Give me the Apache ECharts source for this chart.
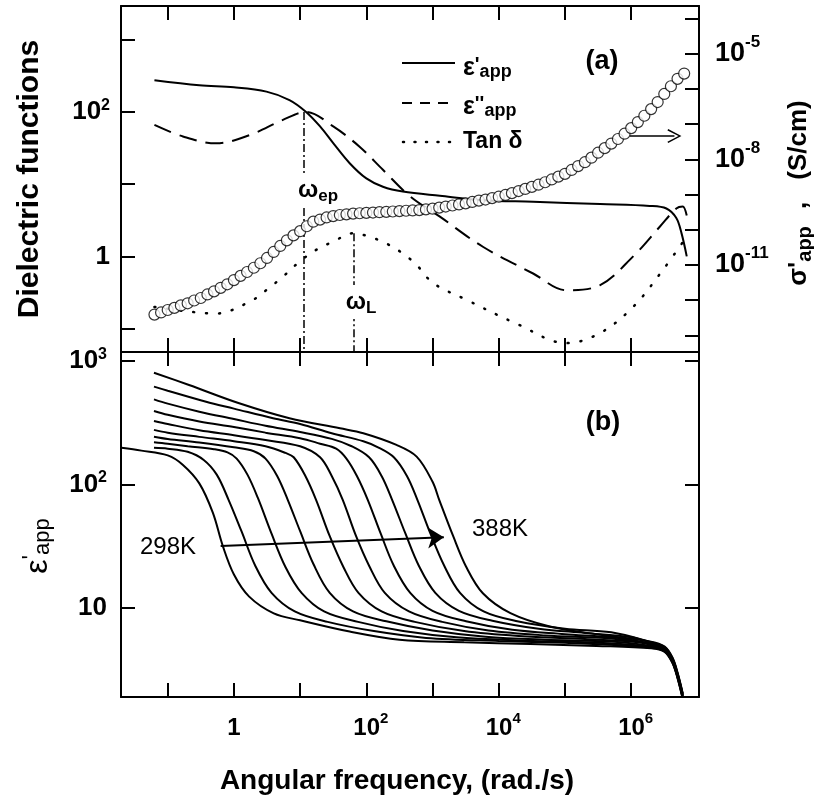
<!DOCTYPE html>
<html><head><meta charset="utf-8">
<script src="https://cdn.jsdelivr.net/npm/echarts@6/dist/echarts.min.js"></script>
<style>html,body{margin:0;padding:0;background:#fff}#c{width:814px;height:805px}</style>
</head><body><div id="c"></div>
<script>
// ---------- axis ranges & ticks ----------
const xRange = [0.0197, 1.057e7];
const yTopRange = [0.0475, 2924];
const ySigmaRange = [3.36e-14, 2.29e-4];
const yBotRange = [1.886, 1186];
const xTicks = [0.1, 1, 10, 100, 1e3, 1e4, 1e5, 1e6];
const xLabels = [1, 1e2, 1e4, 1e6];
const yTopTicks = [0.1, 1, 10, 100, 1000];
const yTopLabels = [1, 100];
const ySigmaTicks = [1e-13, 1e-12, 1e-11, 1e-10, 1e-9, 1e-8, 1e-7, 1e-6, 1e-5, 1e-4];
const ySigmaLabels = [1e-11, 1e-8, 1e-5];
const yBotTicks = [10, 100, 1000];

// ---------- panel (a) ----------
const epsPrime = [[0.063,275],[0.30,234],[1,219],[3.1,191],[6.9,146],[12.3,100],[20,63],[31.6,37],[56,19.5],[100,12],[178,9.2],[355,7.9],[1290,6.9],[5750,6.0],[3.3e4,5.7],[3.4e5,5.3],[1.9e6,5.0],[3.4e6,4.6],[4.8e6,3.4],[5.75e6,2.1],[6.9e6,1.0]];
const epsDouble = [[0.063,66],[0.17,45.7],[0.54,36.7],[1.74,47.9],[5.5,77.6],[12.3,100],[31.6,63],[79,33],[178,15.8],[457,6.8],[1290,3.55],[5750,1.36],[3.3e4,0.58],[1.05e5,0.34],[3.4e5,0.40],[1.07e6,1.0],[2.7e6,2.57],[4.8e6,4.6],[6.0e6,4.9],[7.2e6,3.0]];
const tanDelta = [[0.063,0.20],[0.19,0.174],[0.54,0.162],[1.74,0.236],[3.1,0.343],[5.5,0.525],[9.8,0.845],[17.4,1.23],[31.6,1.60],[63,2.09],[112,1.87],[200,1.51],[355,1.10],[575,0.76],[1020,0.427],[3240,0.251],[1.86e4,0.117],[1.05e5,0.063],[3.4e5,0.087],[1.07e6,0.20],[3.0e6,0.646],[6.6e6,1.78]];
const sigmaFreq = [0.0631,0.0794,0.1,0.126,0.158,0.2,0.251,0.316,0.398,0.501,0.631,0.794,
 1,1.26,1.58,2,2.51,3.16,3.98,5.01,6.31,7.94,
 10,12.6,15.8,20,25.1,31.6,39.8,50.1,63.1,79.4,
 100,126,158,200,251,316,398,501,631,794,
 1e3,1.26e3,1.58e3,2e3,2.51e3,3.16e3,3.98e3,5.01e3,6.31e3,7.94e3,
 1e4,1.26e4,1.58e4,2e4,2.51e4,3.16e4,3.98e4,5.01e4,6.31e4,7.94e4,
 1e5,1.26e5,1.58e5,2e5,2.51e5,3.16e5,3.98e5,5.01e5,6.31e5,7.94e5,
 1e6,1.26e6,1.58e6,2e6,2.51e6,3.16e6,3.98e6,5.01e6,6.31e6];
const sigmaVal = [3.89e-13,4.47e-13,5.25e-13,6.03e-13,7.08e-13,8.13e-13,9.77e-13,1.15e-12,1.45e-12,1.78e-12,2.24e-12,2.82e-12,
 3.72e-12,4.90e-12,6.31e-12,8.32e-12,1.12e-11,1.58e-11,2.34e-11,3.47e-11,5.01e-11,6.92e-11,
 9.12e-11,1.26e-10,1.70e-10,1.95e-10,2.24e-10,2.45e-10,2.63e-10,2.75e-10,2.88e-10,2.95e-10,
 3.02e-10,3.09e-10,3.16e-10,3.24e-10,3.31e-10,3.39e-10,3.47e-10,3.55e-10,3.63e-10,3.80e-10,
 3.98e-10,4.27e-10,4.57e-10,4.90e-10,5.25e-10,5.62e-10,6.17e-10,6.76e-10,7.24e-10,7.94e-10,
 8.71e-10,9.77e-10,1.10e-9,1.26e-9,1.45e-9,1.66e-9,1.91e-9,2.24e-9,2.69e-9,3.24e-9,
 3.89e-9,5.01e-9,6.46e-9,8.32e-9,1.12e-8,1.55e-8,2.09e-8,2.82e-8,3.80e-8,5.37e-8,
 7.76e-8,1.15e-7,1.74e-7,2.69e-7,4.27e-7,7.24e-7,1.20e-6,1.95e-6,2.75e-6];
const omegaFreq = [11.4, 64.5];      // ω_ep, ω_L
const omegaTop = [100, 2.09];
const sigmaArrow = [[9.5e5, 4.6e-8], [4.5e6, 4.6e-8]];

// ---------- panel (b) ----------
const eps298 = [[0.02,198],[0.04,188],[0.1,172],[0.17,144],[0.3,102],[0.48,59],[0.68,31.6],[1,18.6],[1.7,12.3],[4,9.0],[10,7.9],[56,6.4],[316,5.5],[3e3,5.25],[3e4,5.07],[3e5,4.9],[2e6,4.68],[3.2e6,4.37],[4.2e6,3.55],[5e6,2.69],[6e6,1.82]];
const eps308 = [[0.062,198],[0.1,195],[0.2,184],[0.35,158],[0.55,120],[0.83,75],[1.3,41.7],[2.1,21.9],[3.7,13.2],[8.3,9.33],[26,7.67],[130,6.46],[800,5.69],[1e4,5.37],[1e5,5.19],[5e5,5.01],[2e6,4.73],[3.2e6,4.42],[4.2e6,3.59],[5e6,2.72],[6e6,1.84]];
const eps318 = [[0.062,220],[0.1,214],[0.2,204],[0.5,193],[0.8,182],[1.1,162],[1.6,120],[2.3,77.6],[3.7,39.8],[6,21.4],[10.5,13.2],[23,9.33],[75,7.67],[360,6.46],[2.3e3,5.75],[2e4,5.43],[2e5,5.25],[1e6,5.01],[2e6,4.79],[3.2e6,4.47],[4.2e6,3.63],[5e6,2.75],[6e6,1.86]];
const eps328 = [[0.062,244],[0.1,234],[0.3,219],[1,200],[2,186],[3,162],[4.5,117],[6.5,75],[10,41.7],[16,22.4],[28,13.2],[63,9.33],[200,7.76],[1e3,6.53],[6.3e3,5.82],[5e4,5.5],[5e5,5.31],[2e6,4.9],[3.2e6,4.52],[4.2e6,3.67],[5e6,2.79],[6e6,1.88]];
const eps338 = [[0.062,277],[0.1,263],[0.3,243],[1,224],[3,204],[6,180],[8,166],[12,117],[17.4,75],[28,38],[45,21.4],[76,13.2],[170,9.33],[540,7.67],[3e3,6.46],[2e4,5.89],[2e5,5.56],[1e6,5.31],[2e6,5.01],[3.2e6,4.57],[4.2e6,3.72],[5e6,2.82],[6e6,1.91]];
const eps348 = [[0.062,327],[0.1,309],[0.3,275],[1,251],[3,229],[10,204],[20,166],[30,117],[44,75],[70,38],[110,21.9],[190,13.2],[440,9.33],[1.4e3,7.67],[7e3,6.53],[5e4,5.96],[5e5,5.62],[2e6,5.07],[3.2e6,4.62],[4.2e6,3.76],[5e6,2.85],[6e6,1.93]];
const eps358 = [[0.062,394],[0.1,367],[0.3,324],[1,292],[3,263],[10,237],[20,214],[35,195],[50,162],[72,117],[105,75],[165,39.8],[260,21.9],[460,13.2],[1e3,9.44],[3.2e3,7.76],[1.6e4,6.61],[1e5,6.1],[6e5,5.69],[2e6,5.13],[3.2e6,4.68],[4.2e6,3.8],[5e6,2.88],[6e6,1.95]];
const eps368 = [[0.062,490],[0.1,452],[0.3,389],[1,339],[3,299],[10,266],[30,234],[60,204],[110,166],[170,117],[245,75],[390,39.8],[620,21.9],[1.1e3,13.2],[2.5e3,9.44],[8e3,7.85],[4e4,6.76],[2e5,6.24],[1e6,5.75],[2e6,5.19],[3.2e6,4.73],[4.2e6,3.85],[5e6,2.92],[6e6,1.97]];
const eps378 = [[0.062,621],[0.1,575],[0.38,468],[1,412],[3.9,344],[10,309],[30,260],[90,224],[150,200],[260,166],[410,117],[590,75],[930,39.8],[1.5e3,21.9],[2.6e3,13.2],[5.9e3,9.33],[1.9e4,7.76],[1e5,6.76],[5e5,6.31],[2e6,5.25],[3.2e6,4.79],[4.2e6,3.89],[5e6,2.95],[6e6,2.0]];
const eps388 = [[0.062,805],[0.21,640],[1.2,455],[6.9,344],[40,285],[90,260],[285,209],[575,168],[1e3,105],[1.26e3,75],[2.05e3,38],[3.2e3,21.6],[5.75e3,13.1],[1.5e4,9.04],[5.9e4,7.05],[3.4e5,6.03],[1.9e6,5.32],[3.2e6,4.84],[4.2e6,3.94],[5e6,2.99],[6e6,2.02]];
const tempCurves = [eps298, eps308, eps318, eps328, eps338, eps348, eps358, eps368, eps378, eps388];
const tempNames = ['298K','308K','318K','328K','338K','348K','358K','368K','378K','388K'];
const tempArrow = [[0.63, 31.7], [1480, 37.3]];

// ---------- chart ----------
const FONT = '"Liberation Sans", Arial, Helvetica, sans-serif';
const chart = echarts.init(document.getElementById('c'), null, {renderer: 'canvas'});

function expOf(v) { return Math.round(Math.log10(v)); }
function decadeFmt(v) {
  const e = expOf(v);
  if (e === 0) return '{m|1}';
  if (e === 1) return '{m|10}';
  return '{n|10}{s|' + e + '}';
}
function decadeFmtLeft(v) {
  const e = expOf(v);
  if (e === 0) return '{m|1}';
  if (e === 1) return '{m|10}';
  return '{m|10}{s|' + e + '}';
}
const lineW = 2;
function logAxis(o) {
  return Object.assign({
    type: 'log', logBase: 10,
    axisLine: {show: true, onZero: false, lineStyle: {color: '#000', width: lineW}},
    axisTick: {show: true, inside: true, length: 14, customValues: o.ticks, lineStyle: {color: '#000', width: lineW}},
    axisLabel: o.labels ? Object.assign({show: true, customValues: o.labels, color: '#000', fontFamily: FONT, fontWeight: 'bold'}, o.labelOpt) : {show: false},
    splitLine: {show: false},
    minorTick: {show: false},
    axisPointer: {show: false}
  }, o.extra);
}

const xAxes = [
  logAxis({ticks: xTicks, extra: {gridIndex: 0, position: 'bottom', min: xRange[0], max: xRange[1]}}),
  logAxis({ticks: xTicks, extra: {gridIndex: 0, position: 'top', min: xRange[0], max: xRange[1]}}),
  logAxis({ticks: xTicks, labels: xLabels,
    labelOpt: {margin: 14, formatter: decadeFmt, rich: {
      m: {fontSize: 24, fontWeight: 'bold', fontFamily: FONT, lineHeight: 34, color: '#000'},
      n: {fontSize: 24, fontWeight: 'bold', fontFamily: FONT, lineHeight: 34, color: '#000', padding: [0, 0, 0, 9]},
      s: {fontSize: 15, fontWeight: 'bold', fontFamily: FONT, lineHeight: 15, verticalAlign: 'top', color: '#000'}}},
    extra: {gridIndex: 1, position: 'bottom', min: xRange[0], max: xRange[1],
      name: 'Angular frequency, (rad./s)', nameLocation: 'middle', nameGap: 70,
      nameTextStyle: {fontSize: 28, fontWeight: 'bold', fontFamily: FONT, color: '#000', padding: [0, 26, 0, 0]}}}),
  logAxis({ticks: xTicks, extra: {gridIndex: 1, position: 'top', min: xRange[0], max: xRange[1]}})
];
const yAxes = [
  logAxis({ticks: yTopTicks, labels: yTopLabels,
    labelOpt: {margin: 11, formatter: decadeFmtLeft, rich: {
      m: {fontSize: 26, fontWeight: 'bold', fontFamily: FONT, lineHeight: 28, color: '#000'},
      s: {fontSize: 16, fontWeight: 'bold', fontFamily: FONT, lineHeight: 20, verticalAlign: 'top', color: '#000'}}},
    extra: {gridIndex: 0, position: 'left', min: yTopRange[0], max: yTopRange[1],
      name: 'Dielectric functions', nameLocation: 'middle', nameGap: 76,
      nameTextStyle: {fontSize: 30, fontWeight: 'bold', fontFamily: FONT, color: '#000'}}}),
  logAxis({ticks: ySigmaTicks, labels: ySigmaLabels,
    labelOpt: {margin: 16, formatter: decadeFmtLeft, rich: {
      m: {fontSize: 27, fontWeight: 'bold', fontFamily: FONT, lineHeight: 40, color: '#000'},
      s: {fontSize: 17, fontWeight: 'bold', fontFamily: FONT, lineHeight: 17, verticalAlign: 'top', color: '#000'}}},
    extra: {gridIndex: 0, position: 'right', min: ySigmaRange[0], max: ySigmaRange[1],
      name: "{a|σ'}{s|app}{c| ,}{a|(S/cm)}", nameLocation: 'middle', nameGap: 84,
      nameTextStyle: {color: '#000', padding: [0, 28, 0, 0], rich: {
        a: {fontSize: 26, fontWeight: 'bold', fontFamily: FONT, lineHeight: 32, color: '#000'},
        s: {fontSize: 20, fontWeight: 'bold', fontFamily: FONT, lineHeight: 20, verticalAlign: 'bottom', color: '#000'},
        c: {fontSize: 26, fontWeight: 'bold', fontFamily: FONT, lineHeight: 32, color: '#000', padding: [0, 22, 0, 10]}}}}}),
  logAxis({ticks: yBotTicks, labels: yBotTicks,
    labelOpt: {margin: 14, formatter: decadeFmtLeft, rich: {
      m: {fontSize: 26, fontWeight: 'bold', fontFamily: FONT, lineHeight: 30, color: '#000'},
      s: {fontSize: 16, fontWeight: 'bold', fontFamily: FONT, lineHeight: 16, verticalAlign: 'top', color: '#000'}}},
    extra: {gridIndex: 1, position: 'left', min: yBotRange[0], max: yBotRange[1]}}),
  logAxis({ticks: yBotTicks, extra: {gridIndex: 1, position: 'right', min: yBotRange[0], max: yBotRange[1]}})
];

const series = [];
const dashDot = [8, 3, 2, 3];
series.push({
  name: "ε'app", type: 'line', xAxisIndex: 0, yAxisIndex: 0, data: epsPrime,
  smooth: 0.35, showSymbol: false, symbol: 'none', z: 3,
  lineStyle: {color: '#000', width: 2},
  markLine: {silent: true, symbol: ['none', 'none'], label: {show: false},
    lineStyle: {color: '#000', width: 1.5, type: dashDot},
    data: [
      [{coord: [omegaFreq[0], omegaTop[0]]}, {coord: [omegaFreq[0], yTopRange[0]]}],
      [{coord: [omegaFreq[1], omegaTop[1]]}, {coord: [omegaFreq[1], yTopRange[0]]}]
    ]}
});
series.push({
  name: "ε''app", type: 'line', xAxisIndex: 0, yAxisIndex: 0, data: epsDouble,
  smooth: 0.35, showSymbol: false, symbol: 'none', z: 3,
  lineStyle: {color: '#000', width: 2, type: [18, 9]}
});
series.push({
  name: 'Tan δ', type: 'line', xAxisIndex: 0, yAxisIndex: 0, data: tanDelta,
  smooth: 0.35, showSymbol: false, symbol: 'none', z: 3,
  lineStyle: {color: '#000', width: 2.5, type: [1, 12], cap: 'round'}
});
series.push({
  name: "σ'app", type: 'scatter', xAxisIndex: 0, yAxisIndex: 1,
  data: sigmaFreq.map((f, i) => [f, sigmaVal[i]]),
  symbol: 'circle', symbolSize: 11, z: 5,
  itemStyle: {color: '#fff', borderColor: '#000', borderWidth: 1.2},
  markLine: {silent: true, symbol: ['none', 'path://M0,18 L10,0 L20,18 L18,19 L10,4 L2,19 Z'], symbolSize: 14,
    label: {show: false}, lineStyle: {color: '#000', width: 1.5, type: 'solid'},
    data: [[{coord: sigmaArrow[0]}, {coord: sigmaArrow[1]}]]}
});
tempCurves.forEach((d, i) => {
  const s = {
    name: tempNames[i], type: 'line', xAxisIndex: 2, yAxisIndex: 2, data: d,
    smooth: 0.35, showSymbol: false, symbol: 'none', z: 3,
    lineStyle: {color: '#000', width: 2}
  };
  if (i === 0) {
    s.markLine = {silent: true, symbol: ['none', 'arrow'], symbolSize: 16, label: {show: false},
      lineStyle: {color: '#000', width: 2, type: 'solid'},
      data: [[{coord: tempArrow[0]}, {coord: tempArrow[1]}]]};
  }
  series.push(s);
});

const bold = (fs, o) => Object.assign({fontSize: fs, fontWeight: 'bold', fontFamily: FONT, fill: '#000'}, o || {});
const norm = (fs, o) => Object.assign({fontSize: fs, fontWeight: 'normal', fontFamily: FONT, fill: '#000'}, o || {});

const graphic = [
  // legend
  {type: 'line', z: 100, shape: {x1: 402, y1: 63, x2: 455, y2: 63}, style: {stroke: '#000', lineWidth: 2}},
  {type: 'line', z: 100, shape: {x1: 402, y1: 103, x2: 452, y2: 103}, style: {stroke: '#000', lineWidth: 2, lineDash: [10, 8]}},
  {type: 'line', z: 100, shape: {x1: 403, y1: 142, x2: 452, y2: 142}, style: {stroke: '#000', lineWidth: 2.5, lineDash: [1, 10.5], lineCap: 'round'}},
  {type: 'text', z: 100, x: 463, y: 68, style: {text: "{e|ε}{q|'}{s|app}", align: 'left', verticalAlign: 'middle',
    rich: {e: bold(25, {lineHeight: 26, verticalAlign: 'bottom'}), q: bold(20, {lineHeight: 20, verticalAlign: 'top'}), s: bold(18, {lineHeight: 22, verticalAlign: 'bottom'})}}},
  {type: 'text', z: 100, x: 463, y: 107, style: {text: "{e|ε}{q|''}{s|app}", align: 'left', verticalAlign: 'middle',
    rich: {e: bold(25, {lineHeight: 26, verticalAlign: 'bottom'}), q: bold(20, {lineHeight: 20, verticalAlign: 'top'}), s: bold(18, {lineHeight: 22, verticalAlign: 'bottom'})}}},
  {type: 'text', z: 100, x: 463, y: 142, style: {text: 'Tan δ', align: 'left', verticalAlign: 'middle', fontSize: 23, fontWeight: 'bold', fontFamily: FONT, fill: '#000'}},
  // panel tags
  {type: 'text', z: 100, x: 602, y: 62, style: {text: '(a)', align: 'center', verticalAlign: 'middle', fontSize: 27, fontWeight: 'bold', fontFamily: FONT, fill: '#000'}},
  {type: 'text', z: 100, x: 603, y: 423, style: {text: '(b)', align: 'center', verticalAlign: 'middle', fontSize: 27, fontWeight: 'bold', fontFamily: FONT, fill: '#000'}},
  // temperatures
  {type: 'text', z: 100, x: 168, y: 547, style: {text: '298K', align: 'center', verticalAlign: 'middle', fontSize: 24, fontFamily: FONT, fill: '#000'}},
  {type: 'text', z: 100, x: 500, y: 529, style: {text: '388K', align: 'center', verticalAlign: 'middle', fontSize: 24, fontFamily: FONT, fill: '#000'}},
  // omega labels
  {type: 'text', z: 100, x: 318, y: 190, style: {text: '{w|ω}{s|ep}', align: 'center', verticalAlign: 'middle', backgroundColor: '#fff', padding: [2, 2, 2, 2],
    rich: {w: bold(24, {lineHeight: 30, verticalAlign: 'middle'}), s: bold(17, {lineHeight: 17, verticalAlign: 'bottom'})}}},
  {type: 'text', z: 100, x: 361, y: 302, style: {text: '{w|ω}{s|L}', align: 'center', verticalAlign: 'middle', backgroundColor: '#fff', padding: [2, 2, 2, 2],
    rich: {w: bold(24, {lineHeight: 30, verticalAlign: 'middle'}), s: bold(17, {lineHeight: 17, verticalAlign: 'bottom'})}}},
  // bottom panel y title
  {type: 'text', z: 100, x: 37, y: 546, rotation: Math.PI / 2, style: {text: "{e|ε}{q|'}{s|app}", align: 'center', verticalAlign: 'middle',
    rich: {e: norm(32, {lineHeight: 34, verticalAlign: 'bottom'}), q: norm(24, {lineHeight: 24, verticalAlign: 'top'}), s: norm(22, {lineHeight: 26, verticalAlign: 'bottom'})}}}
];

chart.setOption({
  animation: false,
  backgroundColor: '#fff',
  textStyle: {fontFamily: FONT, color: '#000'},
  grid: [
    {left: 121, top: 6, width: 578, height: 346, containLabel: false, outerBoundsMode: 'none'},
    {left: 121, top: 352, width: 578, height: 345, containLabel: false, outerBoundsMode: 'none'}
  ],
  xAxis: xAxes,
  yAxis: yAxes,
  series: series,
  graphic: graphic
});
</script></body></html>
